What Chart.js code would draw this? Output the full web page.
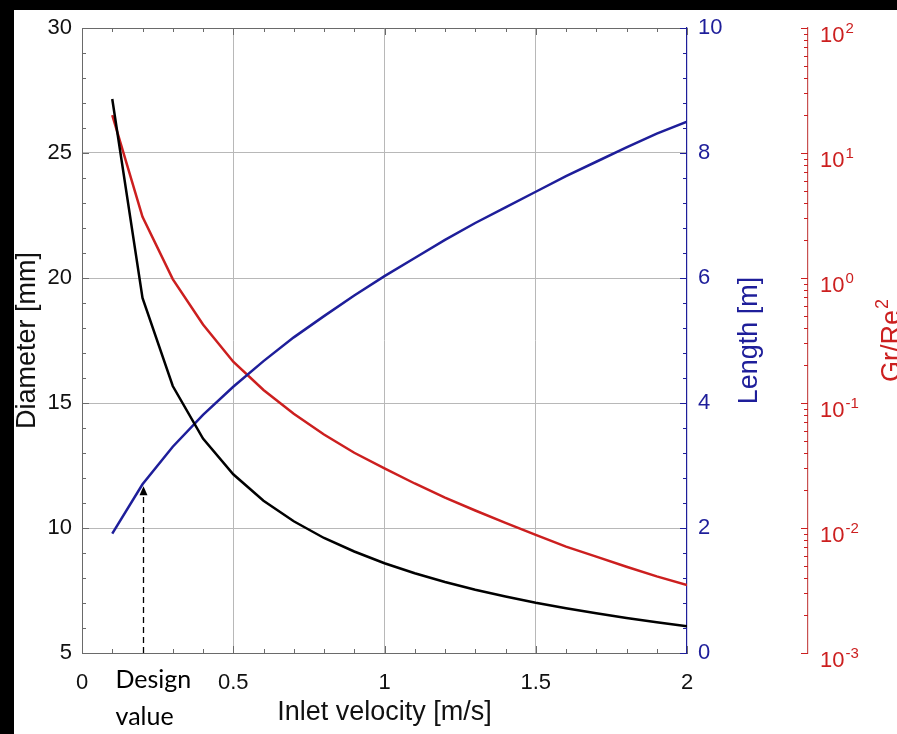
<!DOCTYPE html>
<html>
<head>
<meta charset="utf-8">
<script src="https://cdn.jsdelivr.net/npm/chart.js@4.4.1/dist/chart.umd.min.js"></script>
<style>
  html, body { margin: 0; padding: 0; background: #000; overflow: hidden; }
  #wrap { position: absolute; left: 14px; top: 10px; width: 883px; height: 724px; background: #fff; }
</style>
</head>
<body>
<div id="wrap"><canvas id="theCanvas" width="883" height="724"></canvas></div>
<script>
// inlet velocity [m/s]
var velocity = [0.1, 0.2, 0.3, 0.4, 0.5, 0.6, 0.7, 0.8, 0.9, 1.0,
                1.1, 1.2, 1.3, 1.4, 1.5, 1.6, 1.7, 1.8, 1.9, 2.0];
// diameter [mm] (left axis)
var diameter = [27.16, 19.2, 15.68, 13.58, 12.15, 11.09, 10.27, 9.6, 9.06, 8.59,
                8.19, 7.84, 7.53, 7.26, 7.01, 6.79, 6.59, 6.4, 6.23, 6.07];
// length [m] (blue axis)
var lengthM = [1.91, 2.70, 3.30, 3.81, 4.26, 4.67, 5.05, 5.39, 5.72, 6.03,
               6.32, 6.61, 6.88, 7.13, 7.38, 7.63, 7.86, 8.09, 8.31, 8.5];
// Gr/Re^2 (red log axis)
var grRe2 = [20.1, 3.09, 0.98, 0.425, 0.214, 0.127, 0.082, 0.056, 0.040, 0.030,
             0.0227, 0.0175, 0.0138, 0.0110, 0.0088, 0.0071, 0.0059, 0.0049, 0.0041, 0.0035];

var redTicks = [0.001, 0.01, 0.1, 1, 10, 100];
var redExponents = ['-3', '-2', '-1', '0', '1', '2'];
var designVelocity = 0.2;

var BLACK = '#000000';
var BLUE = '#1e1e9a';
var RED = '#cc1f1f';
var GRID = '#b8b8b8';
var AXIS = '#6a6a6a';
var FONT = "'Liberation Sans', Arial, sans-serif";

Chart.defaults.font.family = FONT;

function toPoints(ys) {
    return velocity.map(function(v, i){ return {x: v, y: ys[i]}; });
}

function strokeLine(ctx, x1, y1, x2, y2) {
    ctx.beginPath();
    ctx.moveTo(x1, y1);
    ctx.lineTo(x2, y2);
    ctx.stroke();
}

// fixed axis width, and no extra label padding pushed into the layout
function fixWidth(w) {
    return function(scale){
        scale.width = w;
        scale.paddingTop = 0;
        scale.paddingBottom = 0;
    };
}

var decoPlugin = {
    id: 'deco',
    afterDatasetsDraw: function(chart) {
        var ctx = chart.ctx, a = chart.chartArea, s = chart.scales;
        ctx.save();
        ctx.lineWidth = 1;

        // top border of the box
        ctx.strokeStyle = AXIS;
        strokeLine(ctx, a.left, a.top + 0.5, a.right, a.top + 0.5);

        // x ticks, inward, bottom and top
        for (var i = 0; i <= 20; i++) {
            var px = Math.round(s.x.getPixelForValue(i / 10)) + 0.5;
            var len = (i % 5 === 0) ? 7 : 4;
            strokeLine(ctx, px, a.bottom, px, a.bottom - len);
            strokeLine(ctx, px, a.top, px, a.top + len);
        }
        // left ticks
        for (var d = 5; d <= 30; d++) {
            var py = Math.round(s.y.getPixelForValue(d)) + 0.5;
            strokeLine(ctx, a.left, py, a.left + ((d % 5 === 0) ? 7 : 4), py);
        }
        // blue axis ticks
        ctx.strokeStyle = BLUE;
        for (var j = 0; j <= 25; j++) {
            var py1 = Math.round(s.y1.getPixelForValue(j * 0.4)) + 0.5;
            strokeLine(ctx, a.right, py1, a.right - ((j % 5 === 0) ? 7 : 4), py1);
        }
        // red log axis ticks
        ctx.strokeStyle = RED;
        var rx = s.y2.left;
        for (var e = -3; e <= 2; e++) {
            for (var m = 1; m <= 9; m++) {
                if (e === 2 && m > 1) break;
                var py2 = Math.round(s.y2.getPixelForValue(m * Math.pow(10, e))) + 0.5;
                strokeLine(ctx, rx, py2, rx - ((m === 1) ? 7 : 4), py2);
            }
        }
        ctx.restore();
    },
    afterDraw: function(chart) {
        var ctx = chart.ctx, a = chart.chartArea, s = chart.scales;
        ctx.save();

        // design value marker
        var dx = Math.round(s.x.getPixelForValue(designVelocity)) + 0.5;
        var tipY = s.y1.getPixelForValue(lengthM[velocity.indexOf(designVelocity)]) + 2;
        ctx.strokeStyle = BLACK;
        ctx.lineWidth = 1.3;
        ctx.setLineDash([6, 4]);
        strokeLine(ctx, dx, a.bottom, dx, tipY + 8);
        ctx.setLineDash([]);
        ctx.fillStyle = BLACK;
        ctx.beginPath();
        ctx.moveTo(dx, tipY);
        ctx.lineTo(dx - 4, tipY + 9);
        ctx.lineTo(dx + 4, tipY + 9);
        ctx.closePath();
        ctx.fill();

        ctx.font = "25px Lato, 'Open Sans', sans-serif";
        ctx.textAlign = 'left';
        ctx.textBaseline = 'alphabetic';
        ctx.fillText('Design', dx - 28, a.bottom + 35);
        ctx.fillText('value', dx - 28, a.bottom + 72);

        // red log tick labels: 10 with a raised exponent
        ctx.fillStyle = RED;
        var lx = s.y2.left + 12;
        for (var k = 0; k < redTicks.length; k++) {
            var ty = s.y2.getPixelForValue(redTicks[k]);
            ctx.font = '22px ' + FONT;
            ctx.fillText('10', lx, ty + 14);
            var w = ctx.measureText('10').width;
            ctx.font = '15px ' + FONT;
            ctx.fillText(redExponents[k], lx + w + 1, ty + 5);
        }

        // right axis titles, reading bottom to top
        var cy = (a.top + a.bottom) / 2;
        ctx.font = '27px ' + FONT;
        ctx.textAlign = 'center';
        ctx.fillStyle = BLUE;
        ctx.translate(a.right + 70, cy);
        ctx.rotate(-Math.PI / 2);
        ctx.fillText('Length [m]', 0, 0);
        ctx.setTransform(1, 0, 0, 1, 0, 0);

        ctx.fillStyle = RED;
        ctx.translate(s.y2.left + 92, cy);
        ctx.rotate(-Math.PI / 2);
        ctx.textAlign = 'left';
        ctx.font = '27px ' + FONT;
        var w1 = ctx.measureText('Gr/Re').width;
        ctx.font = '18px ' + FONT;
        var w2 = ctx.measureText('2').width;
        var x0 = -(w1 + w2 + 1) / 2;
        ctx.font = '27px ' + FONT;
        ctx.fillText('Gr/Re', x0, 0);
        ctx.font = '18px ' + FONT;
        ctx.fillText('2', x0 + w1 + 1, -12);
        ctx.restore();
    }
};

var ctx = document.getElementById('theCanvas');

var myChart = new Chart(ctx, {
    type: 'line',
    data: {
        datasets: [
            { label: 'Diameter', data: toPoints(diameter), yAxisID: 'y',
              borderColor: BLACK, borderWidth: 2.5, pointRadius: 0, tension: 0, fill: false },
            { label: 'Length', data: toPoints(lengthM), yAxisID: 'y1',
              borderColor: BLUE, borderWidth: 2.5, pointRadius: 0, tension: 0, fill: false },
            { label: 'Gr/Re2', data: toPoints(grRe2), yAxisID: 'y2',
              borderColor: RED, borderWidth: 2.5, pointRadius: 0, tension: 0, fill: false }
        ]
    },
    options: {
        responsive: false,
        animation: false,
        devicePixelRatio: 1,
        layout: { padding: { top: 18, left: 0, right: 0, bottom: 0 } },
        plugins: { legend: { display: false }, tooltip: { enabled: false } },
        scales: {
            x: {
                type: 'linear', position: 'bottom', min: 0, max: 2,
                ticks: { stepSize: 0.5, color: '#111', font: { size: 22 }, padding: 17, maxRotation: 0,
                         callback: function(v){ return String(Math.round(v * 10) / 10); } },
                grid: { drawTicks: false, color: function(c){ return (c.tick && (c.tick.value === 0 || c.tick.value === 2)) ? 'rgba(0,0,0,0)' : GRID; } },
                border: { color: AXIS, width: 1 },
                title: { display: true, text: 'Inlet velocity [m/s]', color: '#111', font: { size: 27 }, padding: { top: 0, bottom: 5 } },
                afterFit: function(scale){ scale.height = 81; }
            },
            y: {
                type: 'linear', position: 'left', min: 5, max: 30,
                ticks: { stepSize: 5, color: '#111', font: { size: 22 }, padding: 10 },
                grid: { drawTicks: false, color: function(c){ return (c.tick && (c.tick.value === 5 || c.tick.value === 30)) ? 'rgba(0,0,0,0)' : GRID; } },
                border: { color: AXIS, width: 1 },
                title: { display: true, text: 'Diameter [mm]', color: '#111', font: { size: 27, lineHeight: 1 }, padding: 0 },
                afterFit: fixWidth(68)
            },
            y1: {
                type: 'linear', position: 'right', min: 0, max: 10,
                ticks: { stepSize: 2, color: BLUE, font: { size: 22 }, padding: 11 },
                grid: { display: false, drawTicks: false },
                border: { color: BLUE, width: 1.2 },
                afterFit: fixWidth(121)
            },
            y2: {
                type: 'logarithmic', position: 'right', min: 0.001, max: 100,
                afterBuildTicks: function(scale){
                    scale.ticks = redTicks.map(function(v){ return { value: v }; });
                },
                ticks: { display: false },
                grid: { display: false, drawTicks: false },
                border: { color: '#c85050', width: 1.2 },
                afterFit: fixWidth(89)
            }
        }
    },
    plugins: [decoPlugin]
});
</script>
</body>
</html>
